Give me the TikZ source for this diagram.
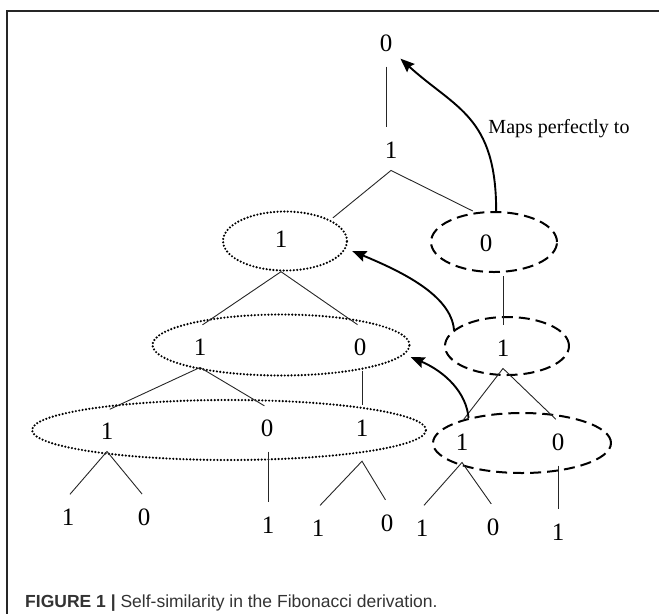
\documentclass[tikz,border=0pt]{standalone}
\usepackage{fontspec}
\setmainfont{Liberation Serif}
\newfontfamily\capfont{Liberation Sans}
\usetikzlibrary{shapes.geometric, arrows.meta}

\begin{document}
\begin{tikzpicture}[x=1pt, y=-1pt,
    digit/.style={inner xsep=3pt, inner ysep=12pt, font=\fontsize{25}{25}\selectfont},
    branch/.style={draw, line width=0.9pt, black!85, shorten <=3pt, shorten >=3pt},
    dotring/.style={ellipse, draw, line width=2.4pt, dash pattern=on 0pt off 3.4pt, line cap=round, inner sep=0pt},
    dashring/.style={ellipse, draw, line width=2pt, dash pattern=on 11pt off 6pt, inner sep=0pt},
    maparrow/.style={draw, line width=1.9pt, -{Stealth[length=14pt, width=11pt, inset=2pt]}}]

    \useasboundingbox (0,0) rectangle (659,614);
    \draw[line width=1.2pt, black!85] (659,11) -- (7,11) -- (7,614);

    \node[dotring,  minimum width=124pt, minimum height=59pt] (ellA) at (285,241) {};
    \node[dashring, minimum width=126pt, minimum height=60pt] (ellB) at (494,242) {};
    \node[dotring,  minimum width=257pt, minimum height=61pt] (ellD) at (281,345) {};
    \node[dashring, minimum width=124pt, minimum height=58pt] (ellC) at (507,346) {};
    \node[dotring,  minimum width=394pt, minimum height=60pt] (ellE) at (229,430) {};
    \node[dashring, minimum width=178pt, minimum height=60pt] (ellF) at (522,443) {};

    \foreach \name/\x/\y/\bit in {r0/386/43/0, r1/391/150/1,
        a1/281/239/1, b0/486/243/0,
        d1/200/347/1, d0/360/347/0, c1/503/348/1,
        e1/107/431/1, e0/267/428/0, e2/362/428/1, f1/462/442/1, f0/558/442/0,
        g1/68/517/1, g2/144/517/0, g3/268/525/1, g4/318/528/1,
        g5/387/523/0, g6/422/528/1, g7/493/527/0, g8/558/532/1}
      \node[digit] (\name) at (\x,\y) {\bit};

    \draw[branch] (r0.south) -- (r0 |- r1.north);
    \draw[branch] (c1 |- ellB.south) -- (c1.north);
    \draw[branch] (e2 |- d0.south) -- (e2.north);
    \draw[branch] (g3 |- e0.south) -- (g3.north);
    \draw[branch] (g8 |- f0.south) -- (g8.north);

    \draw[branch] (ellA.25) -- (r1.south) -- (ellB.122);
    \draw[branch] (d1.north) -- (a1 |- ellA.south) -- (d0.north);
    \draw[branch] (g4.north) -- (e2 |- ellE.south) -- (g5.north);
    \foreach \left/\top/\right in {e1/d1/e0, f1/c1/f0, g1/e1/g2, g6/f1/g7}
      \draw[branch] (\left.north) -- (\top.south) -- (\right.north);

    \draw[maparrow] (ellB.86)
      .. controls +(0,-95) and +(55,50) .. ([shift={(5pt,5pt)}]r0.south east);
    \draw[maparrow] (ellC.163)
      .. controls +(-3,-35) and +(48,20) .. ([xshift=4pt, yshift=-10pt]ellA.east);
    \draw[maparrow] (ellF.155)
      .. controls +(-2,-25) and +(35,15) .. ([yshift=-12pt]ellD.east);

    \node[font=\fontsize{20}{24}\selectfont] (maps) at (559,129) {Maps perfectly to};

    \node[anchor=base west, inner sep=0pt, text=black!80,
          font=\capfont\fontsize{17.5}{20}\selectfont] (caption) at (25,607)
      {\textbf{FIGURE 1 |} Self-similarity in the Fibonacci derivation.};
\end{tikzpicture}
\end{document}
